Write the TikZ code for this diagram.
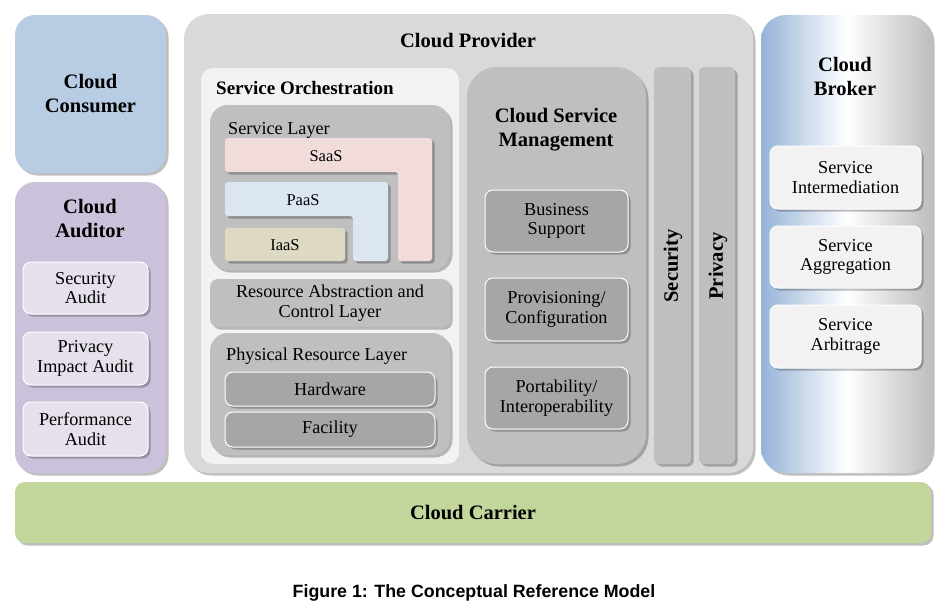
\documentclass[tikz,border=0pt]{standalone}
\usepackage{fontspec}
\setmainfont{Liberation Serif}
\newfontfamily\capfont{Liberation Sans}
\usetikzlibrary{shadows,fit}
\definecolor{consumer}{HTML}{B8CCE4}
\definecolor{auditor}{HTML}{CCC1DA}
\definecolor{audsub}{HTML}{E5E0EC}
\definecolor{provider}{HTML}{D9D9D9}
\definecolor{orch}{HTML}{F2F2F2}
\definecolor{layer}{HTML}{BFBFBF}
\definecolor{dark}{HTML}{A6A6A6}
\definecolor{saas}{HTML}{F2DCDB}
\definecolor{paas}{HTML}{DCE6F2}
\definecolor{iaas}{HTML}{DDD9C3}
\definecolor{brokerblue}{HTML}{95B3D7}
\definecolor{brokergray}{HTML}{BDBDBD}
\definecolor{brokersub}{HTML}{F2F2F2}
\definecolor{carrier}{HTML}{C3D69B}
\newcommand\ttlfont{\fontsize{20.5}{24}\selectfont\bfseries}
\newcommand\txtfont{\fontsize{18.2}{19.5}\selectfont}
\begin{document}
\begin{tikzpicture}[x=1pt, y=-1pt,
  shd/.style={drop shadow={shadow xshift=2.5pt, shadow yshift=-2.5pt, opacity=0.25, fill=black}},
  blk/.style={fit={#1}, inner sep=0pt, rounded corners=6pt},
  sub/.style={blk={#1}, draw=white, line width=1pt, rounded corners=8pt, shd},
  title/.style={font=\ttlfont, align=center, inner sep=0pt},
  txt/.style={font=\txtfont, align=center, inner sep=0pt},
  small/.style={font=\fontsize{16.5}{18}\selectfont, inner sep=0pt}]
\useasboundingbox (0,0) rectangle (952,608);
% consumer and auditor
\node[blk={(15,15) (166,173)}, fill=consumer, rounded corners=20pt, shd,
  label={[title]center:Cloud\\Consumer}] (consumer) {};
\node[blk={(15,182) (166,473)}, fill=auditor, rounded corners=20pt, shd] (auditor) {};
\node[title] (auditortitle) at (90,219) {Cloud\\Auditor};
\node[sub={(23,262) (148,314)}, fill=audsub, label={[txt]center:Security\\Audit}] (secaudit) {};
\node[sub={(23,332) (148,385)}, fill=audsub, label={[txt]center:Privacy\\Impact Audit}] (privaudit) {};
\node[sub={(23,402) (148,456)}, fill=audsub, label={[txt]center:Performance\\Audit}] (perfaudit) {};
% provider
\node[blk={(184,14) (753,473)}, fill=provider, rounded corners=25pt, shd] (provider) {};
\node[title] (providertitle) at (468,41) {Cloud Provider};
\node[blk={(201,68) (459,464)}, fill=orch, rounded corners=12pt] (orch) {};
\node[title, font=\fontsize{19}{22}\selectfont\bfseries, anchor=west] (orchtitle) at (216,88) {Service Orchestration};
\node[blk={(210,105) (450,270)}, fill=layer, rounded corners=18pt, shd] (servlayer) {};
\node[txt, anchor=west] (servlayertitle) at (228,130) {Service Layer};
\path[fill=saas, rounded corners=3pt, shd] (225,138) -- (432,138) -- (432,261) -- (398,261) -- (398,172) -- (225,172) -- cycle;
\path[fill=paas, rounded corners=3pt, shd] (225,182) -- (388,182) -- (388,261) -- (353,261) -- (353,216) -- (225,216) -- cycle;
\node[blk={(225,228) (345,261)}, fill=iaas, rounded corners=3pt, shd] (iaas) {};
\node[small] (saaslabel) at (326,156) {SaaS};
\node[small] (paaslabel) at (303,200) {PaaS};
\node[small] (iaaslabel) at (285,245) {IaaS};
\node[blk={(210,279) (450,327)}, fill=layer, rounded corners=8pt, shd,
  label={[txt]center:Resource Abstraction and\\Control Layer}] (resabs) {};
\node[blk={(210,333) (450,455)}, fill=layer, rounded corners=18pt, shd] (phys) {};
\node[txt, anchor=west] (physlabel) at (226,356) {Physical Resource Layer};
\node[sub={(225,372) (435,406)}, fill=dark, label={[txt]center:Hardware}] (hardware) {};
\node[sub={(225,412) (435,447)}, fill=dark, label={[txt]center:Facility}] (facility) {};
% management
\node[blk={(467,67) (646,464)}, fill=layer, rounded corners=30pt, shd] (csm) {};
\node[title] (csmtitle) at (556,130) {Cloud Service\\Management};
\node[sub={(485,190) (628,252)}, fill=dark, label={[txt]center:Business\\Support}] (business) {};
\node[sub={(485,278) (628,341)}, fill=dark, label={[txt]center:Provisioning/\\Configuration}] (provisioning) {};
\node[sub={(485,367) (628,429)}, fill=dark, label={[txt]center:Portability/\\Interoperability}] (portability) {};
\node[blk={(654,67) (691,464)}, fill=layer, rounded corners=5pt, shd] (security) {};
\node[title, rotate=90] (securitylabel) at (673,266) {Security};
\node[blk={(699,67) (735,464)}, fill=layer, rounded corners=5pt, shd] (privacy) {};
\node[title, rotate=90] (privacylabel) at (718,266) {Privacy};
% broker
\node[blk={(761,15) (932,473)}, rounded corners=25pt, left color=brokerblue, right color=brokergray, middle color=white, shd] (broker) {};
\node[title] (brokertitle) at (845,76) {Cloud\\Broker};
\node[sub={(770,146) (921,209)}, fill=brokersub, label={[txt]center:Service\\Intermediation}] (intermediation) {};
\node[sub={(770,226) (921,288)}, fill=brokersub, label={[txt]center:Service\\Aggregation}] (aggregation) {};
\node[sub={(770,305) (921,368)}, fill=brokersub, label={[txt]center:Service\\Arbitrage}] (arbitrage) {};
% carrier
\node[blk={(15,482) (931,543)}, fill=carrier, rounded corners=10pt, shd,
  label={[title]center:Cloud Carrier}] (carrier) {};
\node[font=\capfont\fontsize{17.8}{20}\selectfont\bfseries] (caption) at (474,593) {Figure 1: The Conceptual Reference Model};
\end{tikzpicture}
\end{document}
